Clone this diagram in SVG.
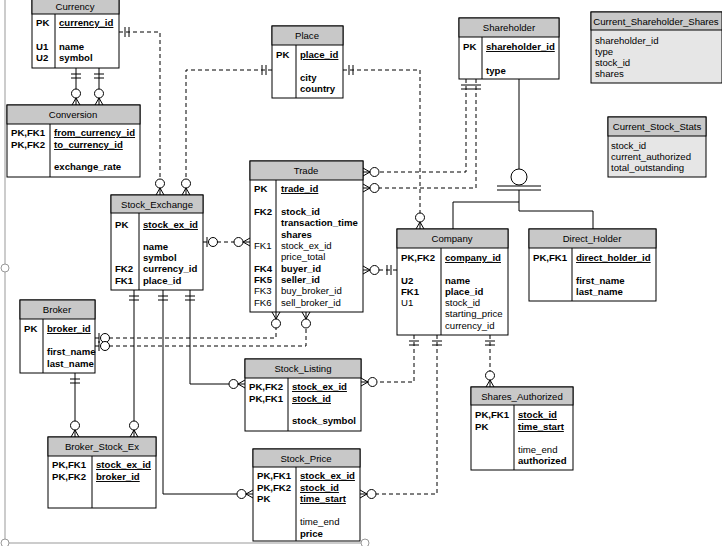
<svg xmlns="http://www.w3.org/2000/svg" width="722" height="546" viewBox="0 0 722 546">
<style>
text{font-family:"Liberation Sans",Arial,sans-serif;font-size:9.6px;fill:#000}
.b{font-weight:bold}.u{text-decoration:underline}.h{text-anchor:middle}
.box{fill:#fff;stroke:#000;stroke-width:1}
.hd{fill:#c8c8c8;stroke:#000;stroke-width:1}
.vw{fill:#e6e6e6;stroke:#000;stroke-width:1}
.dv{stroke:#000;stroke-width:1}
.s{fill:none;stroke:#000;stroke-width:1}
.d{fill:none;stroke:#000;stroke-width:1;stroke-dasharray:4,3}
.mk{fill:#fff;stroke:#000;stroke-width:1;stroke-dasharray:none}
</style>
<defs>
<marker id="many0" markerUnits="userSpaceOnUse" viewBox="-20 -7 22 14" markerWidth="22" markerHeight="14" refX="0" refY="0" orient="auto-start-reverse"><path class="mk" d="M0,-4L-7,0L0,4M0,0H-7"/><circle class="mk" cx="-11.5" cy="0" r="4.5"/></marker>
<marker id="one1" markerUnits="userSpaceOnUse" viewBox="-16 -7 18 14" markerWidth="18" markerHeight="14" refX="0" refY="0" orient="auto-start-reverse"><path class="mk" d="M-6,-5V5M-10,-5V5"/></marker>
<marker id="one0" markerUnits="userSpaceOnUse" viewBox="-20 -7 22 14" markerWidth="22" markerHeight="14" refX="0" refY="0" orient="auto-start-reverse"><path class="mk" d="M-4,-5V5"/><circle class="mk" cx="-10" cy="0" r="4.5"/></marker>
</defs>
<g id="frame" fill="none" stroke="#999"><path d="M5,0V543H365"/><circle cx="5" cy="268" r="4" fill="#fff"/><circle cx="5" cy="543" r="4" fill="#fff"/><circle cx="365" cy="543" r="4" fill="#fff"/></g>
<g id="connectors">
<path class="d" d="M119,32H160V195" marker-start="url(#one1)" marker-end="url(#many0)"/>
<path class="s" d="M76,68V105" marker-start="url(#one1)" marker-end="url(#many0)"/>
<path class="s" d="M99,68V105" marker-start="url(#one1)" marker-end="url(#many0)"/>
<path class="d" d="M272,70H186V195" marker-start="url(#one1)" marker-end="url(#many0)"/>
<path class="d" d="M343,70H420V229" marker-start="url(#one1)" marker-end="url(#many0)"/>
<path class="d" d="M466,79V172H363" marker-start="url(#one1)" marker-end="url(#many0)"/>
<path class="d" d="M476,79V188H363" marker-start="url(#one1)" marker-end="url(#many0)"/>
<path class="d" d="M203,242H250" marker-start="url(#one0)" marker-end="url(#many0)"/>
<path class="d" d="M397,270H363" marker-start="url(#one1)" marker-end="url(#many0)"/>
<path class="d" d="M95,338H276V312" marker-start="url(#one0)" marker-end="url(#many0)"/>
<path class="d" d="M95,346H306V312" marker-start="url(#one0)" marker-end="url(#many0)"/>
<path class="s" d="M134,290V437" marker-start="url(#one1)" marker-end="url(#many0)"/>
<path class="s" d="M163,290V494H253" marker-start="url(#one1)" marker-end="url(#many0)"/>
<path class="s" d="M190,290V384H245" marker-start="url(#one1)" marker-end="url(#many0)"/>
<path class="s" d="M75,373V437" marker-start="url(#one1)" marker-end="url(#many0)"/>
<path class="d" d="M414,335V382H361" marker-start="url(#one1)" marker-end="url(#many0)"/>
<path class="d" d="M437,335V494H360" marker-start="url(#one1)" marker-end="url(#many0)"/>
<path class="d" d="M490,335V387" marker-start="url(#one1)" marker-end="url(#many0)"/>
<path class="s" d="M519,79V169M497,186H541M497,190H541M519,190V211H593V229M519,202H453V229" stroke="#444"/>
<circle cx="519" cy="177" r="8" fill="#fff" stroke="#000"/>
</g>
<g id="Currency"><rect class="box" x="32" y="-2" width="87" height="70"/><rect class="hd" x="32" y="-2" width="87" height="16"/><line class="dv" x1="55" y1="14" x2="55" y2="68"/><text class="h" x="75" y="10">Currency</text><text class="b" x="36" y="26">PK</text><text class="b u" x="59" y="26">currency_id</text><text class="b" x="36" y="50">U1</text><text class="b" x="59" y="50">name</text><text class="b" x="36" y="61">U2</text><text class="b" x="59" y="61">symbol</text></g>
<g id="Conversion"><rect class="box" x="7" y="105" width="133" height="72"/><rect class="hd" x="7" y="105" width="133" height="19"/><line class="dv" x1="50" y1="124" x2="50" y2="177"/><text class="h" x="73" y="118">Conversion</text><text class="b" x="11" y="136">PK,FK1</text><text class="b u" x="54" y="136">from_currency_id</text><text class="b" x="11" y="148">PK,FK2</text><text class="b u" x="54" y="148">to_currency_id</text><text class="b" x="54" y="170">exchange_rate</text></g>
<g id="Place"><rect class="box" x="272" y="26" width="71" height="72"/><rect class="hd" x="272" y="26" width="71" height="19"/><line class="dv" x1="296" y1="45" x2="296" y2="98"/><text class="h" x="307" y="39">Place</text><text class="b" x="276" y="58">PK</text><text class="b u" x="300" y="58">place_id</text><text class="b" x="300" y="81">city</text><text class="b" x="300" y="92">country</text></g>
<g id="Shareholder"><rect class="box" x="459" y="18" width="100" height="61"/><rect class="hd" x="459" y="18" width="100" height="19"/><line class="dv" x1="482" y1="37" x2="482" y2="79"/><text class="h" x="509" y="31">Shareholder</text><text class="b" x="463" y="50">PK</text><text class="b u" x="486" y="50">shareholder_id</text><text class="b" x="486" y="74">type</text></g>
<g id="Current_Shareholder_Shares"><rect class="vw" x="591" y="12" width="131" height="71"/><rect class="hd" x="591" y="12" width="131" height="18"/><text class="h" x="656" y="25">Current_Shareholder_Shares</text><text x="595" y="44">shareholder_id</text><text x="595" y="55">type</text><text x="595" y="66">stock_id</text><text x="595" y="77">shares</text></g>
<g id="Current_Stock_Stats"><rect class="vw" x="608" y="117" width="98" height="60"/><rect class="hd" x="608" y="117" width="98" height="19"/><text class="h" x="657" y="130">Current_Stock_Stats</text><text x="611" y="149">stock_id</text><text x="611" y="160">current_authorized</text><text x="611" y="171">total_outstanding</text></g>
<g id="Trade"><rect class="box" x="250" y="161" width="113" height="151"/><rect class="hd" x="250" y="161" width="113" height="19"/><line class="dv" x1="276" y1="180" x2="276" y2="312"/><text class="h" x="306" y="174">Trade</text>
<text class="b" x="254" y="192">PK</text><text class="b u" x="281" y="192">trade_id</text>
<text class="b" x="254" y="215">FK2</text><text class="b" x="281" y="215">stock_id</text>
<text class="b" x="281" y="226">transaction_time</text><text class="b" x="281" y="238">shares</text>
<text x="254" y="249">FK1</text><text x="281" y="249">stock_ex_id</text><text x="281" y="260">price_total</text>
<text class="b" x="254" y="272">FK4</text><text class="b" x="281" y="272">buyer_id</text>
<text class="b" x="254" y="283">FK5</text><text class="b" x="281" y="283">seller_id</text>
<text x="254" y="294">FK3</text><text x="281" y="294">buy_broker_id</text>
<text x="254" y="306">FK6</text><text x="281" y="306">sell_broker_id</text></g>
<g id="Stock_Exchange"><rect class="box" x="111" y="195" width="92" height="95"/><rect class="hd" x="111" y="195" width="92" height="18"/><line class="dv" x1="139" y1="213" x2="139" y2="290"/><text class="h" x="157" y="208">Stock_Exchange</text><text class="b" x="115" y="228">PK</text><text class="b u" x="143" y="228">stock_ex_id</text><text class="b" x="143" y="250">name</text><text class="b" x="143" y="261">symbol</text><text class="b" x="115" y="272">FK2</text><text class="b" x="143" y="272">currency_id</text><text class="b" x="115" y="284">FK1</text><text class="b" x="143" y="284">place_id</text></g>
<g id="Company"><rect class="box" x="397" y="229" width="111" height="106"/><rect class="hd" x="397" y="229" width="111" height="19"/><line class="dv" x1="441" y1="248" x2="441" y2="335"/><text class="h" x="452" y="242">Company</text><text class="b" x="401" y="261">PK,FK2</text><text class="b u" x="445" y="261">company_id</text><text class="b" x="401" y="284">U2</text><text class="b" x="445" y="284">name</text><text class="b" x="401" y="295">FK1</text><text class="b" x="445" y="295">place_id</text><text x="401" y="306">U1</text><text x="445" y="306">stock_id</text><text x="445" y="317">starting_price</text><text x="445" y="329">currency_id</text></g>
<g id="Direct_Holder"><rect class="box" x="529" y="229" width="127" height="72"/><rect class="hd" x="529" y="229" width="127" height="19"/><line class="dv" x1="572" y1="248" x2="572" y2="301"/><text class="h" x="592" y="242">Direct_Holder</text><text class="b" x="533" y="261">PK,FK1</text><text class="b u" x="576" y="261">direct_holder_id</text><text class="b" x="576" y="284">first_name</text><text class="b" x="576" y="295">last_name</text></g>
<g id="Broker"><rect class="box" x="20" y="300" width="75" height="73"/><rect class="hd" x="20" y="300" width="75" height="19"/><line class="dv" x1="43" y1="319" x2="43" y2="373"/><text class="h" x="57" y="313">Broker</text><text class="b" x="24" y="332">PK</text><text class="b u" x="47" y="332">broker_id</text><text class="b" x="47" y="355">first_name</text><text class="b" x="47" y="367">last_name</text></g>
<g id="Stock_Listing"><rect class="box" x="245" y="359" width="116" height="72"/><rect class="hd" x="245" y="359" width="116" height="19"/><line class="dv" x1="288" y1="378" x2="288" y2="431"/><text class="h" x="303" y="372">Stock_Listing</text><text class="b" x="249" y="390">PK,FK2</text><text class="b u" x="292" y="390">stock_ex_id</text><text class="b" x="249" y="402">PK,FK1</text><text class="b u" x="292" y="402">stock_id</text><text class="b" x="292" y="424">stock_symbol</text></g>
<g id="Shares_Authorized"><rect class="box" x="471" y="387" width="102" height="83"/><rect class="hd" x="471" y="387" width="102" height="18"/><line class="dv" x1="514" y1="405" x2="514" y2="470"/><text class="h" x="522" y="400">Shares_Authorized</text><text class="b" x="475" y="418">PK,FK1</text><text class="b u" x="518" y="418">stock_id</text><text class="b" x="475" y="430">PK</text><text class="b u" x="518" y="430">time_start</text><text x="518" y="453">time_end</text><text class="b" x="518" y="464">authorized</text></g>
<g id="Broker_Stock_Ex"><rect class="box" x="48" y="437" width="108" height="71"/><rect class="hd" x="48" y="437" width="108" height="19"/><line class="dv" x1="92" y1="456" x2="92" y2="508"/><text class="h" x="102" y="450">Broker_Stock_Ex</text><text class="b" x="52" y="468">PK,FK1</text><text class="b u" x="96" y="468">stock_ex_id</text><text class="b" x="52" y="480">PK,FK2</text><text class="b u" x="96" y="480">broker_id</text></g>
<g id="Stock_Price"><rect class="box" x="253" y="449" width="107" height="92"/><rect class="hd" x="253" y="449" width="107" height="18"/><line class="dv" x1="296" y1="467" x2="296" y2="541"/><text class="h" x="306" y="462">Stock_Price</text><text class="b" x="257" y="479">PK,FK1</text><text class="b u" x="300" y="479">stock_ex_id</text><text class="b" x="257" y="491">PK,FK2</text><text class="b u" x="300" y="491">stock_id</text><text class="b" x="257" y="502">PK</text><text class="b u" x="300" y="502">time_start</text><text x="300" y="525">time_end</text><text class="b" x="300" y="537">price</text></g>
</svg>
